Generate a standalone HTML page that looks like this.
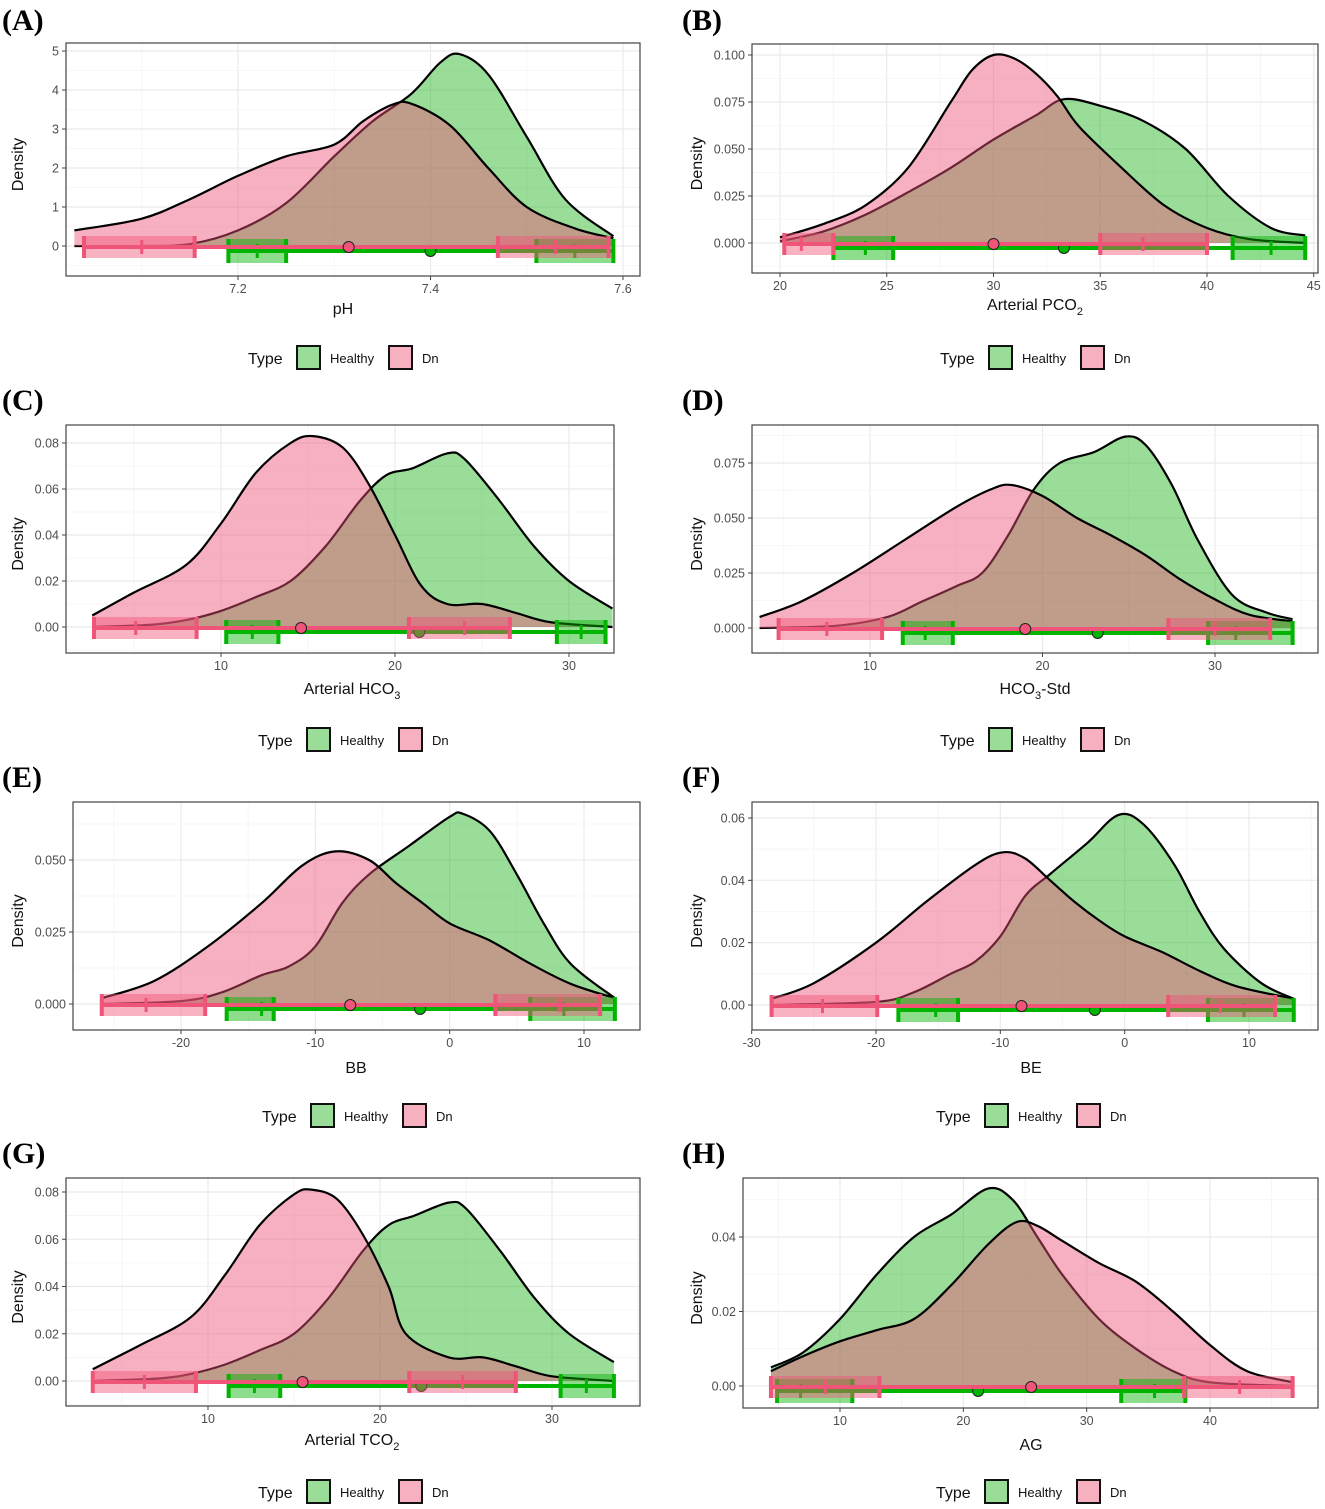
<!DOCTYPE html>
<html><head><meta charset="utf-8">
<style>
html,body{margin:0;padding:0;background:#fff;overflow:hidden;}
svg{display:block;}
svg text{font-family:"Liberation Sans",sans-serif;}
</style></head>
<body>
<svg id="chart" xmlns="http://www.w3.org/2000/svg" width="1325" height="1509" viewBox="0 0 1325 1509"></svg>
<script>
// ---------- DATA ----------
const aX=[7.03,7.1,7.15,7.2,7.25,7.3,7.33,7.36,7.38,7.42,7.46,7.5,7.55,7.59];
const aDn=[0.4,0.7,1.2,1.8,2.3,2.6,3.2,3.62,3.65,3.1,2.0,1.0,0.45,0.2];
const aHX=[7.03,7.1,7.15,7.2,7.25,7.3,7.34,7.38,7.41,7.43,7.46,7.5,7.54,7.59];
const aHealthy=[0,0,0.05,0.4,1.1,2.3,3.2,3.9,4.7,4.92,4.4,2.8,1.2,0.25];

const bX=[20,22,24,26,28,29,30,31,32,33,34,36,38,40,42,44.6];
const bDn=[0.003,0.01,0.02,0.04,0.075,0.092,0.1,0.098,0.09,0.078,0.062,0.04,0.02,0.008,0.002,0.0];
const bHX=[20,22,24,26,28,30,32,33.3,35,37,39,41,43,44.6];
const bHealthy=[0.001,0.006,0.015,0.027,0.04,0.055,0.068,0.0765,0.073,0.065,0.05,0.025,0.008,0.004];

const cX=[2.6,5,8,10,12,14,15.3,17,18.5,20,21.5,23,25,27,29,32.5];
const cDn=[0.005,0.015,0.027,0.045,0.067,0.08,0.083,0.078,0.062,0.04,0.018,0.01,0.01,0.006,0.002,0.0];
const cHX=[2.6,6,8,10,12,14,16,18,19.5,21,23,24,26,28,30,32.5];
const cHealthy=[0,0.001,0.003,0.007,0.013,0.02,0.035,0.055,0.066,0.069,0.0755,0.073,0.055,0.035,0.02,0.008];

const dX=[3.6,6,9,12,15,17,18.2,20,22,24,26,28,30,32,34.5];
const dDn=[0.005,0.012,0.025,0.04,0.055,0.063,0.065,0.06,0.05,0.042,0.033,0.022,0.013,0.006,0.003];
const dHX=[3.6,8,11,13,15,16.5,18,19.5,21,23,24.8,26,27.5,29,31,33,34.5];
const dHealthy=[0,0.001,0.005,0.012,0.019,0.025,0.042,0.063,0.075,0.08,0.087,0.083,0.065,0.04,0.015,0.007,0.004];

const eX=[-25.9,-22,-18,-14,-11,-8.5,-6,-4,-2,0,3,6,9,12.3];
const eDn=[0.002,0.008,0.02,0.035,0.048,0.053,0.05,0.042,0.035,0.028,0.022,0.014,0.007,0.002];
const eHX=[-25.9,-20,-17,-14,-12,-10,-8,-6,-3,0,1,3,5,7,9,12.3];
const eHealthy=[0,0.001,0.004,0.01,0.013,0.02,0.035,0.045,0.055,0.065,0.066,0.06,0.045,0.028,0.014,0.002];

const fX=[-28.4,-25,-20,-16,-12,-9.8,-8,-6,-4,-2,0,3,6,9,13.6];
const fDn=[0.002,0.007,0.02,0.033,0.045,0.049,0.047,0.04,0.033,0.027,0.022,0.017,0.011,0.006,0.002];
const fHX=[-28.4,-20,-17,-14,-12,-10,-8,-6,-3,-0.5,1.5,4,6,8,11,13.6];
const fHealthy=[0,0.001,0.004,0.01,0.014,0.022,0.035,0.042,0.052,0.061,0.058,0.045,0.03,0.018,0.007,0.002];

const gX=[3.3,6,9,11,13,15,16,17.5,19,20.5,21.5,24,26,28,30,33.6];
const gDn=[0.005,0.015,0.027,0.045,0.066,0.079,0.081,0.077,0.062,0.04,0.02,0.01,0.01,0.006,0.002,0.0];
const gHX=[3.3,7,9,11,13,15,17,19,20.5,22,24,25,27,29,31,33.6];
const gHealthy=[0,0.001,0.003,0.007,0.013,0.02,0.035,0.055,0.066,0.07,0.0755,0.073,0.055,0.035,0.02,0.008];

const hX=[4.4,7,10,13,16,19,22,24.3,26,28,31,34,37,40,43,46.7];
const hDn=[0.004,0.008,0.012,0.015,0.018,0.027,0.038,0.044,0.043,0.039,0.033,0.028,0.02,0.011,0.004,0.001];
const hHX=[4.4,7,10,13,16,19,22,24,26,28,31,34,37,40,46.7];
const hHealthy=[0.005,0.009,0.018,0.03,0.04,0.046,0.053,0.05,0.04,0.03,0.018,0.01,0.004,0.001,0];

// strip stats: [min, box1Lo, box1Mid, box1Hi, box2Lo, box2Mid, box2Hi, max, mean]
const aStatDn=[7.04,7.04,7.1,7.155,7.47,7.53,7.585,7.585,7.315];
const aStatHealthy=[7.19,7.19,7.22,7.25,7.51,7.55,7.59,7.59,7.40];
const bStatDn=[20.2,20.2,21.0,22.5,35,37,40,40,30.0];
const bStatHealthy=[22.5,22.5,24,25.3,41.2,43,44.6,44.6,33.3];
const cStatDn=[2.7,2.7,5.1,8.6,20.8,24,26.6,26.6,14.6];
const cStatHealthy=[10.3,10.3,11.8,13.3,29.3,30.7,32.1,32.1,21.4];
const dStatDn=[4.7,4.7,7.5,10.7,27.3,30,33.2,33.2,19.0];
const dStatHealthy=[11.9,11.9,13.2,14.8,29.6,31.2,34.5,34.5,23.2];
const eStatDn=[-25.9,-25.9,-22.6,-18.2,3.4,8.2,11.2,11.2,-7.4];
const eStatHealthy=[-16.6,-16.6,-14,-13.1,6,8.5,12.3,12.3,-2.2];
const fStatDn=[-28.4,-28.4,-24.3,-19.9,3.5,7.7,12.1,12.1,-8.3];
const fStatHealthy=[-18.2,-18.2,-15.2,-13.4,6.7,9.6,13.6,13.6,-2.4];
const gStatDn=[3.3,3.3,6.3,9.3,21.7,24.8,27.9,27.9,15.5];
const gStatHealthy=[11.2,11.2,12.7,14.2,30.5,32,33.6,33.6,22.4];
const hStatDn=[4.4,4.4,8.8,13.2,37.9,42.4,46.7,46.7,25.5];
const hStatHealthy=[4.9,4.9,6.8,11,32.8,35.5,38,38,21.2];

const aXTicks=[7.2,7.4,7.6], aYTicks=[0,1,2,3,4,5], aYLabels=["0","1","2","3","4","5"];
const bXTicks=[20,25,30,35,40,45], bYTicks=[0,0.025,0.05,0.075,0.1], bYLabels=["0.000","0.025","0.050","0.075","0.100"];
const cXTicks=[10,20,30], cYTicks=[0,0.02,0.04,0.06,0.08], cYLabels=["0.00","0.02","0.04","0.06","0.08"];
const dXTicks=[10,20,30], dYTicks=[0,0.025,0.05,0.075], dYLabels=["0.000","0.025","0.050","0.075"];
const eXTicks=[-20,-10,0,10], eYTicks=[0,0.025,0.05], eYLabels=["0.000","0.025","0.050"];
const fXTicks=[-30,-20,-10,0,10], fYTicks=[0,0.02,0.04,0.06], fYLabels=["0.00","0.02","0.04","0.06"];
const gXTicks=[10,20,30], gYTicks=[0,0.02,0.04,0.06,0.08], gYLabels=["0.00","0.02","0.04","0.06","0.08"];
const hXTicks=[10,20,30,40], hYTicks=[0,0.02,0.04], hYLabels=["0.00","0.02","0.04"];

// ---------- LAYOUT ----------
const NS="http://www.w3.org/2000/svg";
const svg=document.getElementById('chart');
function mk(tag,attrs,parent){const e=document.createElementNS(NS,tag);for(const k in attrs)e.setAttribute(k,attrs[k]);(parent||svg).appendChild(e);return e;}

const panels=[
 {id:'a',lab:'(A)',lx:2,ly:30,box:[66,43,640,276],xm:[7.2,238,7.4,430.5],ym:[246,5,51],title:['pH'],tx:343,ty:314,dx:18,legX:248,legY:358,
  X:aX,Dn:aDn,HX:aHX,H:aHealthy,sD:aStatDn,sH:aStatHealthy,xt:aXTicks,yt:aYTicks,yl:aYLabels,xtl:["7.2","7.4","7.6"]},
 {id:'b',lab:'(B)',lx:682,ly:30,box:[752,44,1318,273],xm:[20,780,40,1207],ym:[243,0.1,55],title:['Arterial PCO','2'],tx:1035,ty:310,dx:697,legX:940,legY:358,
  X:bX,Dn:bDn,HX:bHX,H:bHealthy,sD:bStatDn,sH:bStatHealthy,xt:bXTicks,yt:bYTicks,yl:bYLabels},
 {id:'c',lab:'(C)',lx:2,ly:410,box:[66,425,614,653],xm:[10,221,30,569],ym:[627,0.08,443],title:['Arterial HCO','3'],tx:352,ty:694,dx:18,legX:258,legY:740,
  X:cX,Dn:cDn,HX:cHX,H:cHealthy,sD:cStatDn,sH:cStatHealthy,xt:cXTicks,yt:cYTicks,yl:cYLabels},
 {id:'d',lab:'(D)',lx:682,ly:410,box:[752,425,1318,653],xm:[10,870,30,1215],ym:[628,0.075,463],title:['HCO','3','-Std'],tx:1035,ty:694,dx:697,legX:940,legY:740,
  X:dX,Dn:dDn,HX:dHX,H:dHealthy,sD:dStatDn,sH:dStatHealthy,xt:dXTicks,yt:dYTicks,yl:dYLabels},
 {id:'e',lab:'(E)',lx:2,ly:787,box:[73,802,640,1030],xm:[-20,181,10,584],ym:[1004,0.05,860],title:['BB'],tx:356,ty:1073,dx:18,legX:262,legY:1116,
  X:eX,Dn:eDn,HX:eHX,H:eHealthy,sD:eStatDn,sH:eStatHealthy,xt:eXTicks,yt:eYTicks,yl:eYLabels},
 {id:'f',lab:'(F)',lx:682,ly:787,box:[752,802,1318,1030],xm:[-20,876,10,1249],ym:[1005,0.06,818],title:['BE'],tx:1031,ty:1073,dx:697,legX:936,legY:1116,
  X:fX,Dn:fDn,HX:fHX,H:fHealthy,sD:fStatDn,sH:fStatHealthy,xt:fXTicks,yt:fYTicks,yl:fYLabels},
 {id:'g',lab:'(G)',lx:2,ly:1163,box:[66,1178,640,1406],xm:[10,208,30,552],ym:[1381,0.08,1192],title:['Arterial TCO','2'],tx:352,ty:1445,dx:18,legX:258,legY:1492,
  X:gX,Dn:gDn,HX:gHX,H:gHealthy,sD:gStatDn,sH:gStatHealthy,xt:gXTicks,yt:gYTicks,yl:gYLabels},
 {id:'h',lab:'(H)',lx:682,ly:1163,box:[743,1178,1318,1408],xm:[10,840,40,1210],ym:[1386,0.04,1237],title:['AG'],tx:1031,ty:1450,dx:697,legX:936,legY:1492,
  X:hX,Dn:hDn,HX:hHX,H:hHealthy,sD:hStatDn,sH:hStatHealthy,xt:hXTicks,yt:hYTicks,yl:hYLabels}
];

const PINK='#ef5578', GREEN='#00b400';

function smoothPath(pts){
  let d='M'+pts[0][0]+','+pts[0][1];
  for(let i=0;i<pts.length-1;i++){
    const p0=pts[Math.max(0,i-1)],p1=pts[i],p2=pts[i+1],p3=pts[Math.min(pts.length-1,i+2)];
    const c1x=p1[0]+(p2[0]-p0[0])/6,c1y=p1[1]+(p2[1]-p0[1])/6;
    const c2x=p2[0]-(p3[0]-p1[0])/6,c2y=p2[1]-(p3[1]-p1[1])/6;
    d+=' C'+c1x.toFixed(1)+','+c1y.toFixed(1)+' '+c2x.toFixed(1)+','+c2y.toFixed(1)+' '+p2[0].toFixed(1)+','+p2[1].toFixed(1);
  }
  return d;
}

panels.forEach(P=>{
  const [L,T,R,B]=P.box;
  const sx=v=>P.xm[1]+(v-P.xm[0])*(P.xm[3]-P.xm[1])/(P.xm[2]-P.xm[0]);
  const sy=v=>P.ym[0]-v*(P.ym[0]-P.ym[2])/P.ym[1];
  const g=mk('g',{});
  
  

  const lab=mk('text',{x:P.lx,y:P.ly,'font-size':30,'font-weight':'bold',style:'font-family:"Liberation Serif",serif'},g);
  lab.textContent=P.lab;
  
  

  mk('rect',{x:L,y:T,width:R-L,height:B-T,fill:'#fff'},g);
  const xs=P.xt, xstep=xs[1]-xs[0];
  const clipId='clip'+P.id;
  const cp=mk('clipPath',{id:clipId},g); mk('rect',{x:L,y:T,width:R-L,height:B-T},cp);
  const grid=mk('g',{'clip-path':'url(#'+clipId+')'},g);
  
  
  for(let k=-3;k<xs.length+3;k++){
    const v=xs[0]+k*xstep;
    mk('line',{x1:sx(v),x2:sx(v),y1:T,y2:B,stroke:'#ebebeb','stroke-width':1.2},grid);
    mk('line',{x1:sx(v+xstep/2),x2:sx(v+xstep/2),y1:T,y2:B,stroke:'#f4f4f4','stroke-width':0.8},grid);
  }
  const ys=P.yt, ystep=ys[1]-ys[0];
  for(let k=-3;k<ys.length+3;k++){
    const v=ys[0]+k*ystep;
    mk('line',{y1:sy(v),y2:sy(v),x1:L,x2:R,stroke:'#ebebeb','stroke-width':1.2},grid);
    mk('line',{y1:sy(v+ystep/2),y2:sy(v+ystep/2),x1:L,x2:R,stroke:'#f4f4f4','stroke-width':0.8},grid);
  }
  const plot=mk('g',{'clip-path':'url(#'+clipId+')'},g);
  const series=[[P.HX,P.H,'rgba(0,170,0,0.4)','healthy'],[P.X,P.Dn,'rgba(238,80,120,0.45)','dn']];
  series.forEach(s=>{
    const pts=s[0].map((x,i)=>[sx(x),sy(s[1][i])]);
    const d=smoothPath(pts);
    const area=mk('path',{d:d+' L'+pts[pts.length-1][0]+','+sy(0)+' L'+pts[0][0]+','+sy(0)+' Z',fill:s[2],stroke:'none'},plot);
    
    
    const ln=mk('path',{d:d,fill:'none',stroke:'#000','stroke-width':2.2},plot);
    
    
  });
  const strips=[[P.sH,GREEN,'rgba(0,180,0,0.45)',5,12,'healthy'],[P.sD,PINK,'rgba(240,85,120,0.45)',1,11,'dn']];
  strips.forEach(s=>{
    const st=s[0], c=s[1], yc=sy(0)+s[3], hh=s[4];
    const sg=mk('g',{},plot);
    
    
    mk('rect',{x:sx(st[1]),y:yc-hh,width:sx(st[3])-sx(st[1]),height:2*hh,fill:s[2]},sg);
    mk('rect',{x:sx(st[4]),y:yc-hh,width:sx(st[6])-sx(st[4]),height:2*hh,fill:s[2]},sg);
    mk('line',{x1:sx(st[0]),x2:sx(st[7]),y1:yc,y2:yc,stroke:c,'stroke-width':4},sg);
    [st[1],st[3],st[4],st[6]].forEach(v=>mk('line',{x1:sx(v),x2:sx(v),y1:yc-hh,y2:yc+hh,stroke:c,'stroke-width':4},sg));
    [st[2],st[5]].forEach(v=>mk('line',{x1:sx(v),x2:sx(v),y1:yc-7,y2:yc+7,stroke:c,'stroke-width':3},sg));
    const dot=mk('circle',{cx:sx(st[8]),cy:yc,r:5.5,fill:c,stroke:'#222','stroke-width':1},sg);
    
    
  });
  mk('rect',{x:L,y:T,width:R-L,height:B-T,fill:'none',stroke:'#444','stroke-width':1.2},g);
  P.xt.forEach((v,i)=>{
    if(sx(v)<L-1||sx(v)>R+1)return;
    mk('line',{x1:sx(v),x2:sx(v),y1:B,y2:B+4,stroke:'#444'},g);
    const t=mk('text',{x:sx(v),y:B+17,'font-size':12.5,fill:'#4d4d4d','text-anchor':'middle'},g);
    t.textContent=P.xtl?P.xtl[i]:String(v);
    
    
  });
  P.yt.forEach((v,i)=>{
    mk('line',{x1:L-4,x2:L,y1:sy(v),y2:sy(v),stroke:'#444'},g);
    const t=mk('text',{x:L-7,y:sy(v)+4.5,'font-size':12.5,fill:'#4d4d4d','text-anchor':'end'},g);
    t.textContent=P.yl[i];
    
    
  });
  const xt=mk('text',{x:P.tx,y:P.ty,'font-size':16,fill:'#111','text-anchor':'middle'},g);
  
  
  P.title.forEach((part,i)=>{
    const sub=(P.title.length>1 && i%2===1);
    const ts=mk('tspan',sub?{'font-size':11,dy:5}:(i>1?{dy:-5}:{}),xt);
    ts.textContent=part;
  });
  const yt=mk('text',{x:P.dx,y:(T+B)/2,'font-size':16,fill:'#111','text-anchor':'middle',transform:'rotate(-90 '+(P.dx+5)+' '+((T+B)/2)+')'},g);
  yt.textContent='Density';
  
  
  const lg=mk('g',{},g);
  
  
  const x0=P.legX, y0=P.legY;
  const tt=mk('text',{x:x0,y:y0+6,'font-size':16,fill:'#111'},lg); tt.textContent='Type';
  const k1=mk('rect',{x:x0+49,y:y0-12,width:23,height:23,fill:'#99dd99',stroke:'#111','stroke-width':2},lg);
  
  
  const t1=mk('text',{x:x0+82,y:y0+5,'font-size':13,fill:'#111'},lg); t1.textContent='Healthy';
  const k2=mk('rect',{x:x0+141,y:y0-12,width:23,height:23,fill:'#f7b0c0',stroke:'#111','stroke-width':2},lg);
  
  
  const t2=mk('text',{x:x0+174,y:y0+5,'font-size':13,fill:'#111'},lg); t2.textContent='Dn';
});
</script>
</body></html>
